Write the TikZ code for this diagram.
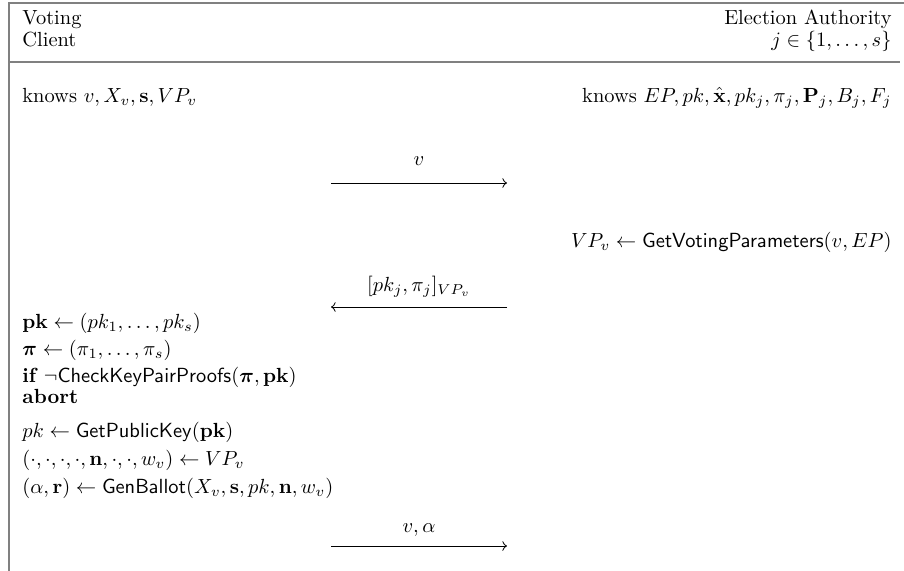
\documentclass[tikz,border=0pt]{standalone}
\usepackage{amsmath,amssymb,bm}
\usetikzlibrary{arrows.meta}
\newcommand{\fn}[1]{\mathsf{#1}}
\begin{document}
\begin{tikzpicture}[x=0.5625pt,y=-0.5625pt,
  txt/.style={inner sep=0pt,scale=1.15},
  lbl/.style={txt,anchor=base west},
  rbl/.style={txt,anchor=base east},
  mlbl/.style={txt,anchor=base},
  msg/.style={->, line width=0.45pt},
  frame/.style={draw=black!50, line width=1.1pt},
  sep/.style={draw=black!50, line width=1.4pt}]
\useasboundingbox (0,0) rectangle (904,570);
\draw[frame] (9,575) -- (9,3) -- (910,3);
\draw[sep] (9,62) -- (900,62);

\node[lbl] (vot) at (22,24) {Voting};
\node[lbl] (cli) at (22,46) {Client};
\node[rbl] (ea) at (892,24) {Election Authority};
\node[rbl] (jj) at (892,46) {$j\in\{1,\ldots,s\}$};

\node[lbl] (kc) at (22,102) {knows $v, X_v, \mathbf{s}, VP_v$};
\node[rbl] (ka) at (892,102) {knows $EP, pk, \hat{\mathbf{x}}, pk_j, \pi_j, \mathbf{P}_j, B_j, F_j$};

\node[mlbl] (m1) at (419,165) {$v$};
\coordinate (m1s) at (331,183);
\coordinate (m1e) at (507,183);
\draw[msg] (m1s) -- (m1e);

\node[rbl] (gvp) at (892,247) {$VP_v \leftarrow \fn{GetVotingParameters}(v, EP)$};

\node[mlbl] (m2) at (419,291) {$[pk_j, \pi_j]_{VP_v}$};
\coordinate (m2s) at (507,307);
\coordinate (m2e) at (331,307);
\draw[msg] (m2s) -- (m2e);

\node[lbl] (c1) at (22,328) {$\mathbf{pk} \leftarrow (pk_1, \ldots, pk_s)$};
\node[lbl] (c2) at (22,355) {$\bm{\pi} \leftarrow (\pi_1, \ldots, \pi_s)$};
\node[lbl] (c3) at (22,382) {$\textbf{if } \neg\fn{CheckKeyPairProofs}(\bm{\pi}, \mathbf{pk})$};
\node[lbl] (c4) at (22,403) {\textbf{abort}};
\node[lbl] (c5) at (22,437) {$pk \leftarrow \fn{GetPublicKey}(\mathbf{pk})$};
\node[lbl] (c6) at (22,465) {$(\cdot,\cdot,\cdot,\cdot,\mathbf{n},\cdot,\cdot,w_v) \leftarrow VP_v$};
\node[lbl] (c7) at (22,493) {$(\alpha, \mathbf{r}) \leftarrow \fn{GenBallot}(X_v, \mathbf{s}, pk, \mathbf{n}, w_v)$};

\node[mlbl] (m3) at (419,532) {$v, \alpha$};
\coordinate (m3s) at (331,546);
\coordinate (m3e) at (507,546);
\draw[msg] (m3s) -- (m3e);
\end{tikzpicture}
\end{document}
